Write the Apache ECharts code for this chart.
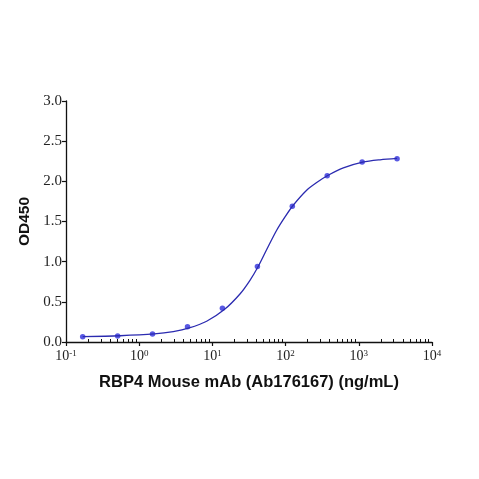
<!DOCTYPE html>
<html><head><meta charset="utf-8">
<script src="https://cdn.jsdelivr.net/npm/echarts@6/dist/echarts.min.js"></script>
<style>html,body{margin:0;padding:0;background:#fff}#c{width:479px;height:479px}</style>
</head><body><div id="c"></div>
<script>
// measured points
const concentrations = [0.169, 0.508, 1.52, 4.57, 13.7, 41.2, 123.5, 370, 1111, 3333];
const od450 = [0.065, 0.075, 0.10, 0.19, 0.42, 0.94, 1.69, 2.07, 2.24, 2.28];
// fitted curve
const curveX = [0.169, 0.547, 1.61, 2.92, 4.83, 8.35, 14.4, 23.8, 32.6, 42.4, 55.2, 75.5, 98.2, 127, 194, 266, 376, 615, 1130, 1950, 3333];
const curveY = [0.068, 0.078, 0.100, 0.129, 0.175, 0.258, 0.400, 0.598, 0.768, 0.943, 1.151, 1.391, 1.557, 1.702, 1.889, 1.985, 2.072, 2.167, 2.238, 2.268, 2.285];
const xTickExponents = [-1, 0, 1, 2, 3, 4];
const yTicks = [0, 0.5, 1.0, 1.5, 2.0, 2.5, 3.0];
const xTitle = 'RBP4 Mouse mAb (Ab176167) (ng/mL)';
const yTitle = 'OD450';

const minorTicks = [];
for (let e = -1; e < 4; e++) for (let m = 2; m <= 9; m++) minorTicks.push(m * Math.pow(10, e));

const chart = echarts.init(document.getElementById('c'), null, {renderer: 'canvas'});
const serif = '"Liberation Serif", "DejaVu Serif", serif';
const sans = '"Liberation Sans", Arial, sans-serif';
chart.setOption({
  animation: false,
  backgroundColor: '#fff',
  grid: {left: 66, right: 47, top: 101, bottom: 137, containLabel: false},
  xAxis: [{
    type: 'log', logBase: 10, min: 0.1, max: 10000,
    name: xTitle, nameLocation: 'middle', nameGap: 32,
    nameTextStyle: {fontFamily: sans, fontWeight: 'bold', fontSize: 16.5, color: '#111'},
    axisLine: {lineStyle: {color: '#111', width: 1.3}},
    axisTick: {show: true, inside: false, length: 4, lineStyle: {color: '#111', width: 1.2}},
    splitLine: {show: false},
    axisLabel: {
      margin: 7, color: '#222', fontFamily: serif, fontSize: 14,
      formatter: v => '10{s|' + Math.round(Math.log10(v)) + '}',
      rich: {s: {fontSize: 9, verticalAlign: 'top', fontFamily: serif, color: '#222', padding: [0,0,6,0]}}
    }
  }, {
    type: 'log', logBase: 10, min: 0.1, max: 10000, position: 'bottom',
    axisLine: {show: false},
    axisLabel: {show: false},
    splitLine: {show: false},
    axisTick: {show: true, inside: true, length: 3, customValues: minorTicks, lineStyle: {color: '#111', width: 1}}
  }],
  yAxis: {
    type: 'value', min: 0, max: 3, interval: 0.5,
    name: yTitle, nameLocation: 'middle', nameGap: 31, nameRotate: 90,
    nameTextStyle: {fontFamily: sans, fontWeight: 'bold', fontSize: 15.5, color: '#111'},
    axisLine: {show: true, lineStyle: {color: '#111', width: 1.3}},
    axisTick: {show: true, inside: false, length: 4, lineStyle: {color: '#111', width: 1.2}},
    splitLine: {show: false},
    axisLabel: {margin: 4, color: '#222', fontFamily: serif, fontSize: 15, formatter: v => v.toFixed(1)}
  },
  series: [{
    type: 'line', xAxisIndex: 0,
    data: curveX.map((c, i) => [c, curveY[i]]),
    smooth: 0.3, showSymbol: false, symbol: 'none',
    lineStyle: {color: '#2b2bb0', width: 1.3}
  }, {
    type: 'scatter', xAxisIndex: 0,
    data: concentrations.map((c, i) => [c, od450[i]]),
    symbol: 'circle', symbolSize: 5.5,
    itemStyle: {color: '#3030dc', borderWidth: 0}
  }]
});
</script></body></html>
